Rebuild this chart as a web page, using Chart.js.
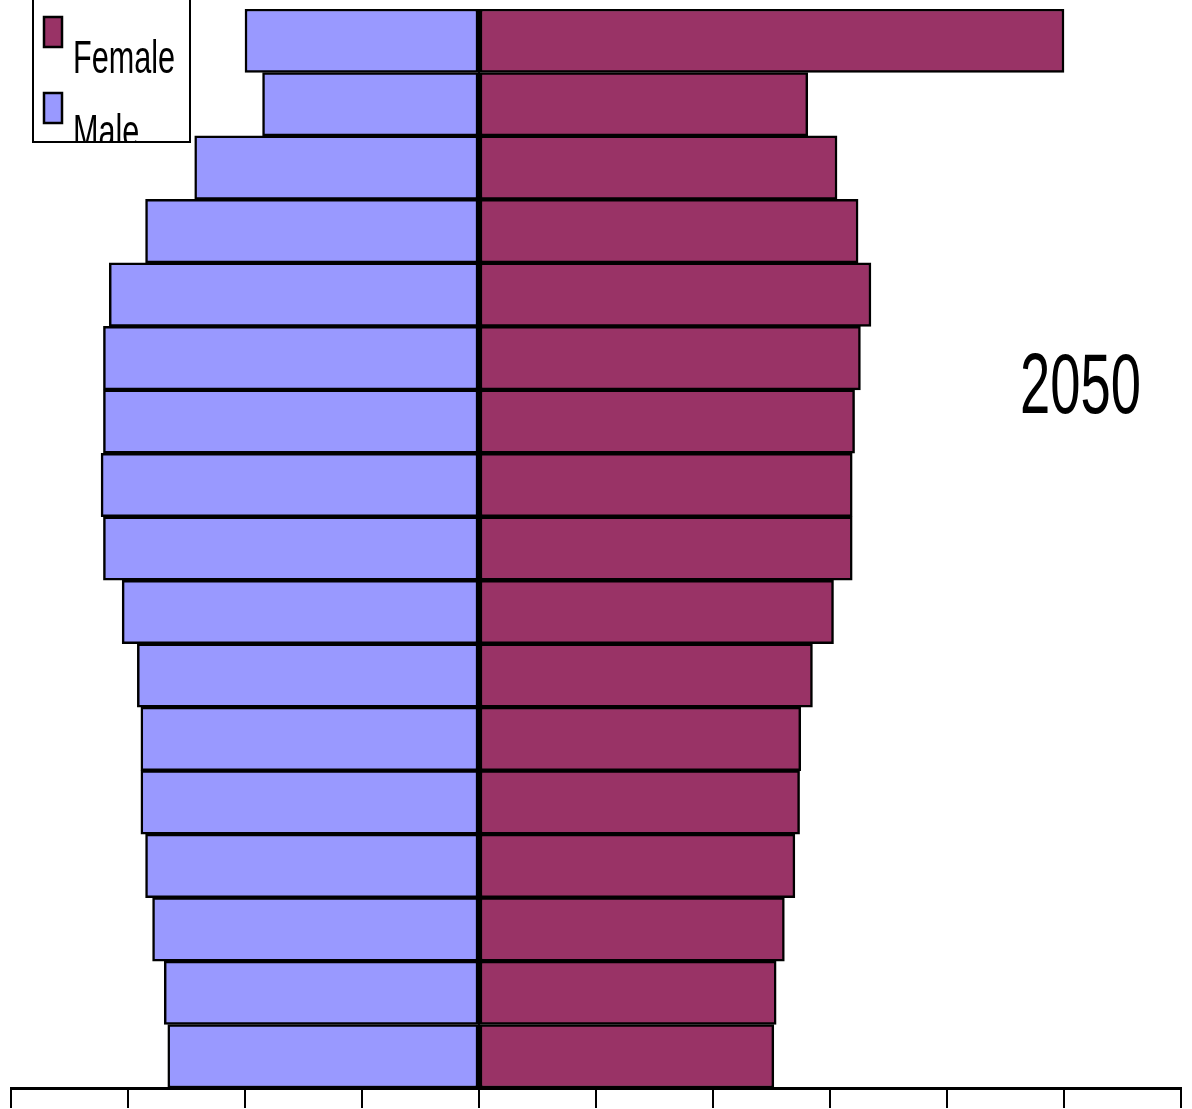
<!DOCTYPE html>
<html>
<head>
<meta charset="utf-8">
<script src="https://cdn.jsdelivr.net/npm/chart.js@4/dist/chart.umd.min.js"></script>
<style>
html,body{margin:0;padding:0;background:#ffffff;overflow:hidden;}
#wrap{width:1192px;height:1109px;position:relative;}
</style>
</head>
<body>
<div id="wrap"><canvas id="c" width="1192" height="1109"></canvas></div>
<script>
// Age groups, oldest at the top
const ageGroups = ['80+','75-79','70-74','65-69','60-64','55-59','50-54','45-49','40-44','35-39','30-34','25-29','20-24','15-19','10-14','5-9','0-4'];
// Male values drawn to the left (negative)
const maleValues = [-2.00,-1.85,-2.43,-2.85,-3.16,-3.21,-3.21,-3.23,-3.21,-3.05,-2.92,-2.89,-2.89,-2.85,-2.79,-2.69,-2.66];
// Female values drawn to the right
const femaleValues = [5.00,2.81,3.06,3.24,3.35,3.26,3.21,3.19,3.19,3.03,2.85,2.75,2.74,2.70,2.61,2.54,2.52];
const xTickValues = [-4,-3,-2,-1,0,1,2,3,4,5,6];
const seriesNames = ['Male','Female'];
const legendOrder = ['Female','Male'];
const yearLabel = '2050';

const colors = {Male:'#9999FF', Female:'#993366'};

const centerLinePlugin = {
  id:'centerLine',
  afterDatasetsDraw(chart){
    const ctx = chart.ctx;
    const px = chart.scales.x.getPixelForValue(0);
    const a = chart.chartArea;
    ctx.save();
    ctx.fillStyle = '#000';
    ctx.fillRect(Math.floor(px) - 1, a.top, 2, a.bottom - a.top);
    ctx.restore();
  }
};

const overlayPlugin = {
  id:'overlay',
  afterDraw(chart){
    const ctx = chart.ctx;
    ctx.save();
    // Legend box (clipped at top)
    ctx.lineWidth = 2;
    ctx.strokeStyle = '#000';
    ctx.fillStyle = '#fff';
    ctx.fillRect(33,-10,157,152);
    ctx.strokeRect(33,-10,157,152);
    ctx.save();
    ctx.beginPath();
    ctx.rect(34,0,155,141);
    ctx.clip();
    const swatchY = [16,92];
    const textBase = [73,147];
    legendOrder.forEach((name,i)=>{
      ctx.fillStyle = colors[name];
      ctx.fillRect(44,swatchY[i]+1,18,30);
      ctx.lineWidth = 2.5;
      ctx.strokeStyle = '#000';
      ctx.strokeRect(44,swatchY[i]+1,18,30);
      ctx.save();
      ctx.translate(73,textBase[i]);
      ctx.scale(0.665,1);
      ctx.fillStyle = '#000';
      ctx.font = '46px "Liberation Sans", Arial, sans-serif';
      ctx.textBaseline = 'alphabetic';
      ctx.fillText(name,0,0);
      ctx.restore();
    });
    ctx.restore();
    // Year label
    ctx.save();
    ctx.translate(1020,413);
    ctx.scale(0.64,1);
    ctx.fillStyle = '#000';
    ctx.font = '85px "Liberation Sans", Arial, sans-serif';
    ctx.textBaseline = 'alphabetic';
    ctx.fillText(yearLabel,0,0);
    ctx.restore();
    ctx.restore();
  }
};

new Chart(document.getElementById('c'), {
  type:'bar',
  data:{
    labels: ageGroups,
    datasets:[
      {label: seriesNames[0], data: maleValues, backgroundColor: colors.Male, borderColor:'#000', borderWidth:2.5, borderSkipped:false, barPercentage:1, categoryPercentage:1},
      {label: seriesNames[1], data: femaleValues, backgroundColor: colors.Female, borderColor:'#000', borderWidth:2.5, borderSkipped:false, barPercentage:1, categoryPercentage:1}
    ]
  },
  options:{
    indexAxis:'y',
    responsive:false,
    animation:false,
    devicePixelRatio:1,
    layout:{padding:{top:9,left:11,right:11,bottom:1}},
    plugins:{legend:{display:false}, tooltip:{enabled:false}, title:{display:false}},
    scales:{
      x:{
        stacked:true,
        min: xTickValues[0],
        max: xTickValues[xTickValues.length-1],
        afterBuildTicks(scale){ scale.ticks = xTickValues.map(v=>({value:v})); },
        ticks:{display:false},
        grid:{drawOnChartArea:false, drawTicks:true, tickLength:20, color:'#000', lineWidth:2},
        border:{display:true, color:'#000', width:3}
      },
      y:{
        stacked:true,
        display:false
      }
    }
  },
  plugins:[centerLinePlugin, overlayPlugin]
});
</script>
</body>
</html>
